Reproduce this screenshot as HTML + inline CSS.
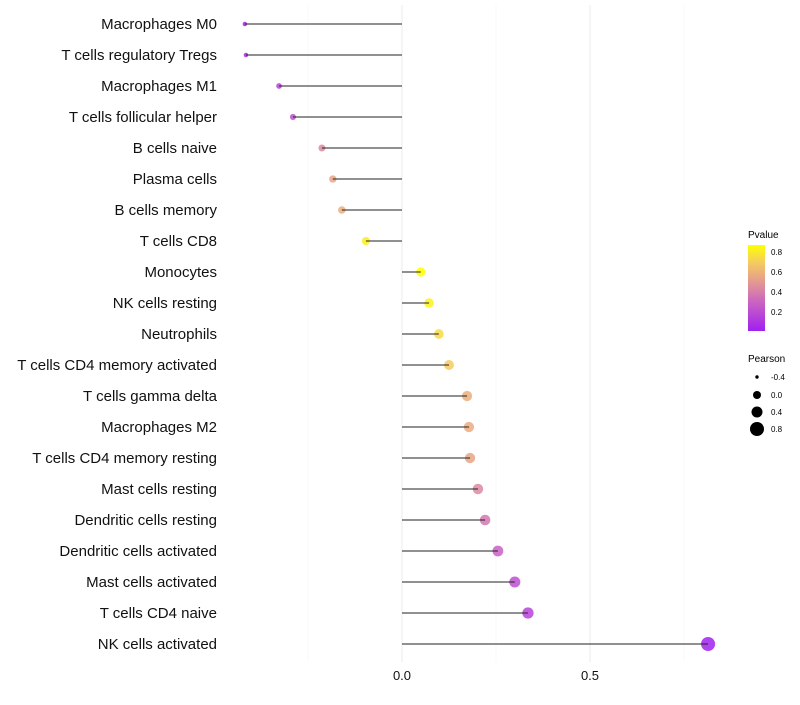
<!DOCTYPE html>
<html><head><meta charset="utf-8"><style>
body{margin:0;background:#fff;font-family:"Liberation Sans",sans-serif}
svg text{font-family:"Liberation Sans",sans-serif}
</style></head><body>
<svg id="chart" width="800" height="700" xmlns="http://www.w3.org/2000/svg">
<defs><linearGradient id="pg" x1="0" y1="1" x2="0" y2="0">
<stop offset="0" stop-color="#a020f0"/><stop offset="0.35" stop-color="#cc66c0"/><stop offset="0.6" stop-color="#e6a08a"/><stop offset="0.8" stop-color="#f5cc60"/><stop offset="1" stop-color="#ffff00"/></linearGradient></defs>
<g id="grid"></g><g id="marks"></g><g id="labels"></g>
<g>
<text x="748" y="238" font-size="10">Pvalue</text>
<rect x="748" y="245" width="17" height="86" fill="url(#pg)"/>
<text x="771" y="255" font-size="8">0.8</text><text x="771" y="275" font-size="8">0.6</text>
<text x="771" y="295" font-size="8">0.4</text><text x="771" y="315" font-size="8">0.2</text>
</g>
<g>
<text x="748" y="362" font-size="10">Pearson</text>
<circle cx="757" cy="377" r="1.7" fill="#000"/><text x="771" y="380" font-size="8">-0.4</text>
<circle cx="757" cy="395" r="4" fill="#000"/><text x="771" y="398" font-size="8">0.0</text>
<circle cx="757" cy="412" r="5.5" fill="#000"/><text x="771" y="415" font-size="8">0.4</text>
<circle cx="757" cy="429" r="7" fill="#000"/><text x="771" y="432" font-size="8">0.8</text>
</g>
</svg>
<script>
const categories=["Macrophages M0","T cells regulatory  Tregs","Macrophages M1","T cells follicular helper","B cells naive","Plasma cells","B cells memory","T cells CD8","Monocytes","NK cells resting","Neutrophils","T cells CD4 memory activated","T cells gamma delta","Macrophages M2","T cells CD4 memory resting","Mast cells resting","Dendritic cells resting","Dendritic cells activated","Mast cells activated","T cells CD4 naive","NK cells activated"];
const pearson=[-0.418,-0.415,-0.327,-0.29,-0.213,-0.184,-0.16,-0.096,0.05,0.072,0.098,0.125,0.173,0.178,0.181,0.202,0.221,0.255,0.30,0.335,0.814];
const pvalue=[0.03,0.04,0.15,0.2,0.42,0.52,0.56,0.8,0.86,0.82,0.74,0.68,0.56,0.55,0.52,0.42,0.36,0.27,0.2,0.15,0.01];
const xTicks=[0,0.5];
const xTickLabels=["0.0","0.5"];
const gridVals=[-0.25,0,0.25,0.5,0.75];
const NS="http://www.w3.org/2000/svg";
const xS=v=>402+v*376;
const yS=i=>24+i*31;
const rS=v=>Math.sqrt(Math.max(2.5,20+36*v));
const stops=[[0,[160,32,240]],[0.3,[204,102,192]],[0.5,[230,160,138]],[0.69,[245,204,96]],[0.86,[255,255,0]]];
function col(p){for(let k=1;k<stops.length;k++){if(p<=stops[k][0]||k==stops.length-1){const a=stops[k-1],b=stops[k];let t=(p-a[0])/(b[0]-a[0]);t=Math.max(0,Math.min(1,t));return "rgb("+a[1].map((c,j)=>Math.round(c+(b[1][j]-c)*t)).join(",")+")";}}}
function mk(t,a,p){const e=document.createElementNS(NS,t);for(const k in a)e.setAttribute(k,a[k]);p.appendChild(e);return e;}
const grid=document.getElementById('grid'),marks=document.getElementById('marks'),labels=document.getElementById('labels');
gridVals.forEach(v=>{const l=mk('line',{x1:xS(v),x2:xS(v),y1:5,y2:662,stroke:v%0.5===0?'#ebebeb':'#f4f4f4','stroke-width':v%0.5===0?1:0.6},grid);

});
xTicks.forEach((v,i)=>{const t=mk('text',{x:xS(v),y:680,'font-size':13,'text-anchor':'middle',fill:'#111'},labels);t.textContent=xTickLabels[i];

});
categories.forEach((c,i)=>{const y=yS(i);
const t=mk('text',{x:217,y:y+5,'font-size':15,'text-anchor':'end',fill:'#111'},labels);t.textContent=c;


const d=mk('circle',{cx:xS(pearson[i]),cy:y,r:rS(pearson[i]),fill:col(pvalue[i]),'fill-opacity':0.85},marks);


const l=mk('line',{x1:xS(0),x2:xS(pearson[i]),y1:y,y2:y,stroke:'#222','stroke-width':1.1},marks);

});
</script>
</body></html>
